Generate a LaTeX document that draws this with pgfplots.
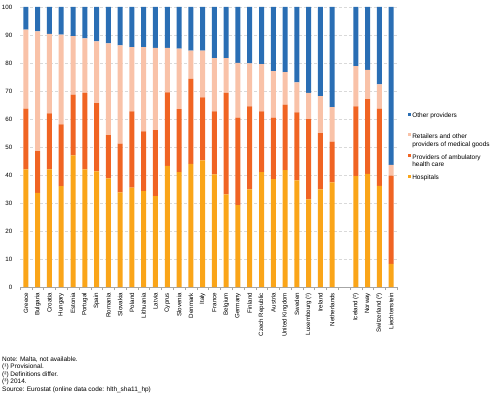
\documentclass[border=0pt]{standalone}
\usepackage{pgfplots}
\pgfplotsset{compat=1.18}
\usepackage{pgfplotstable}
\usepackage{fontspec}
\setmainfont{Liberation Sans}
\definecolor{hosp}{HTML}{FAA519}
\definecolor{amb}{HTML}{F06423}
\definecolor{ret}{HTML}{F9C2A8}
\definecolor{oth}{HTML}{2A6EB4}
\newcommand{\twoline}[2]{\vtop{\hbox{\strut #1}\hbox{\strut #2}}}
\pgfplotstableread{
x hosp amb ret oth
0 42.0 21.7 28.2 8.1
1 33.6 14.9 42.8 8.7
2 42.0 20.0 28.4 9.6
3 36.0 22.1 32.0 9.9
4 47.0 21.7 20.9 10.4
5 42.0 27.3 19.5 11.2
6 41.3 24.4 22.0 12.3
7 38.8 15.4 32.8 13.0
8 33.8 17.4 35.1 13.7
9 35.5 27.2 23.0 14.3
10 34.2 21.4 30.1 14.3
11 32.5 23.5 29.4 14.6
12 43.3 26.2 15.9 14.6
13 41.0 22.5 21.6 14.9
14 44.0 30.3 10.1 15.6
15 45.2 22.5 16.7 15.6
16 40.2 22.5 19.0 18.3
17 33.1 36.2 12.4 18.3
18 29.2 31.3 19.5 20.0
19 34.9 29.6 15.4 20.1
20 41.0 21.7 16.9 20.4
21 38.5 22.0 16.6 22.9
22 41.7 23.4 11.6 23.3
23 38.1 24.3 10.7 26.9
24 31.3 28.7 9.3 30.7
25 34.9 20.1 13.2 31.8
26 37.4 14.5 12.3 35.8
28 39.6 24.9 14.4 21.1
29 40.4 26.7 10.4 22.5
30 36.1 27.6 8.7 27.6
31 8.3 31.5 3.8 56.4
}\data
\begin{document}
\begin{tikzpicture}[x=1bp,y=1bp,font=\fontsize{6.5}{7.5}\selectfont]
\useasboundingbox (0,0) rectangle (500,393);
\begin{axis}[
  at={(20bp,106bp)}, anchor=south west,
  scale only axis, width=377bp, height=280bp,
  ybar stacked, bar width=5bp,
  xmin=-0.5, xmax=31.5, ymin=0, ymax=100,
  axis x line*=bottom, axis y line*=left,
  x axis line style={draw=gray!70, -},
  y axis line style={draw=none},
  xtick={0,...,26,28,29,30,31},
  xticklabels={Greece,Bulgaria,Croatia,Hungary,Estonia,Portugal,Spain,Romania,Slovakia,Poland,Lithuania,Latvia,Cyprus,Slovenia,Denmark,Italy,France,Belgium,Germany,Finland,Czech Republic,Austria,United Kingdom,Sweden,Luxembourg (¹),Ireland,Netherlands,Iceland (²),Norway,Switzerland (³),Liechtenstein},
  x tick label style={rotate=90, anchor=east, font=\fontsize{6.2}{7}\selectfont, inner sep=1.5bp},
  major x tick style={draw=none},
  minor xtick={-0.5,0.5,...,31.5},
  minor x tick style={draw=gray!70},
  minor tick length=3bp,
  tick align=outside,
  ytick={0,10,...,100},
  major y tick style={draw=none},
  y tick label style={font=\fontsize{6.2}{7}\selectfont},
  /pgf/number format/assume math mode=true,
  ymajorgrids, grid style={densely dashed, gray!30},
  legend style={at={(1.021,0.632)}, anchor=north west, draw=none, fill=none,
    font=\fontsize{6.5}{6.6}\selectfont, row sep=12.5bp, nodes={inner sep=1bp}},
  legend cell align=left,
  reverse legend,
  legend image code/.code={\fill[#1] (0bp,0.6bp) rectangle (3.2bp,3.8bp);},
]
\addplot[fill=hosp, draw=none] table[x=x,y=hosp]{\data};
\addplot[fill=amb, draw=none] table[x=x,y=amb]{\data};
\addplot[fill=ret, draw=none] table[x=x,y=ret]{\data};
\addplot[fill=oth, draw=none] table[x=x,y=oth]{\data};
\legend{{\twoline{Hospitals}{}},{\twoline{Providers of ambulatory}{health care}},{\twoline{Retailers and other}{providers of medical goods}},{\twoline{Other providers}{}}}
\end{axis}
\node[anchor=base west, align=left, inner sep=0, font=\fontsize{6.5}{7.5}\selectfont] at (2,2) {Note: Malta, not available.\\(¹) Provisional.\\(²) Definitions differ.\\(³) 2014.\\Source: Eurostat (online data code: hlth\_sha11\_hp)};
\end{tikzpicture}
\end{document}
